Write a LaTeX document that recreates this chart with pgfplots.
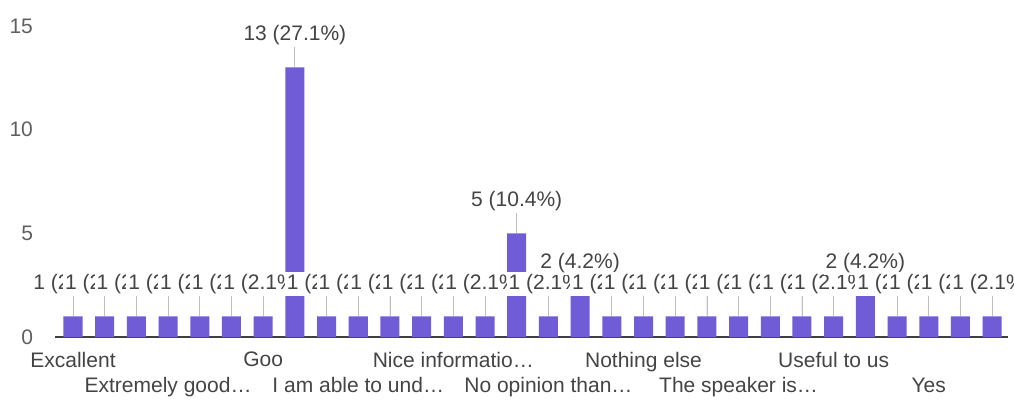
\documentclass[border=0pt]{standalone}
\usepackage{fontspec}
\setmainfont{Liberation Sans}
\usepackage{pgfplots}
\pgfplotsset{compat=1.18}
\definecolor{barc}{RGB}{112,92,214}
\definecolor{txt}{RGB}{68,68,68}
\definecolor{tickc}{RGB}{95,95,95}
\newcommand{\rowtwo}[1]{\rule{0pt}{10pt}\\#1}
\begin{document}
\begin{tikzpicture}
\path[use as bounding box, clip] (0,0) rectangle (507pt,201.5pt);
\begin{axis}[
 at={(27.5pt,33pt)}, anchor=south west,
 scale only axis, width=476.5pt, height=155.5pt,
 xmin=-0.568, xmax=29.5, ymin=0, ymax=15,
 axis x line=bottom, axis y line=left,
 x axis line style={draw=black!75, line width=1pt, -},
 y axis line style={draw=none},
 ytick={0,5,10,15},
 xtick={0,3,...,27},
 xticklabels={Excallent, {\rowtwo{Extremely good…}}, Goo, {\rowtwo{I am able to und…}}, Nice informatio…, {\rowtwo{No opinion than…}}, Nothing else, {\rowtwo{The speaker is…}}, Useful to us, {\rowtwo{Yes}}},
 major tick length=0pt,
 tick style={draw=none},
 xticklabel style={align=center, font=\fontsize{10.5}{10}\selectfont, text=txt, anchor=north, yshift=-4pt},
 yticklabel style={font=\fontsize{10.5}{12}\selectfont, text=tickc, xshift=-7.5pt},
 /pgf/number format/assume math mode=true,
 clip=false,
]
\addplot[ybar, bar width=0.6, fill=barc, draw=none,
  error bars/.cd, y dir=plus, y fixed=1.2, error mark=none,
  error bar style={draw=black!25, line width=0.4pt}]
  coordinates {
  (0,1) (1,1) (2,1) (3,1) (4,1) (5,1) (6,1) (7,13)
  (8,1) (9,1) (10,1) (11,1) (12,1) (13,1) (14,5) (15,1)
  (16,2) (17,1) (18,1) (19,1) (20,1) (21,1) (22,1) (23,1)
  (24,1) (25,2) (26,1) (27,1) (28,1) (29,1)
  };
\addplot[ybar, bar width=0.6, draw=none, fill=none,
  point meta=explicit symbolic, nodes near coords,
  every node near coord/.append style={anchor=center, yshift=16pt, fill=white, inner sep=1pt, font=\fontsize{10.5}{12}\selectfont, text=txt}]
  coordinates {
  (0,1) [1 (2.1\%)] (1,1) [1 (2.1\%)] (2,1) [1 (2.1\%)] (3,1) [1 (2.1\%)]
  (4,1) [1 (2.1\%)] (5,1) [1 (2.1\%)] (6,1) [1 (2.1\%)] (7,13) [13 (27.1\%)]
  (8,1) [1 (2.1\%)] (9,1) [1 (2.1\%)] (10,1) [1 (2.1\%)] (11,1) [1 (2.1\%)]
  (12,1) [1 (2.1\%)] (13,1) [1 (2.1\%)] (14,5) [5 (10.4\%)] (15,1) [1 (2.1\%)]
  (16,2) [2 (4.2\%)] (17,1) [1 (2.1\%)] (18,1) [1 (2.1\%)] (19,1) [1 (2.1\%)]
  (20,1) [1 (2.1\%)] (21,1) [1 (2.1\%)] (22,1) [1 (2.1\%)] (23,1) [1 (2.1\%)]
  (24,1) [1 (2.1\%)] (25,2) [2 (4.2\%)] (26,1) [1 (2.1\%)] (27,1) [1 (2.1\%)]
  (28,1) [1 (2.1\%)] (29,1) [1 (2.1\%)]
  };
\end{axis}
\end{tikzpicture}
\end{document}
